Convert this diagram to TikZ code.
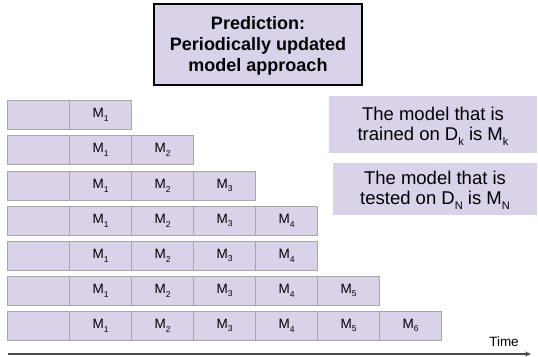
\documentclass[tikz,border=0pt]{standalone}
\usepackage{fontspec}
\setmainfont{Liberation Sans}
\usetikzlibrary{arrows.meta}
\definecolor{lav}{HTML}{D9D2E9}
\definecolor{cellborder}{HTML}{A6A6A6}
\newcommand{\lowsub}[2]{\raisebox{-0.5ex}{\fontsize{#1}{#1}\selectfont #2}}
\newcommand{\Msub}[1]{M\lowsub{8.5}{#1}}
\tikzset{
  cellbox/.style={draw=cellborder, line width=1.2pt, fill=lav, minimum width=62pt, minimum height=29pt, inner sep=0pt, anchor=north west, font=\fontsize{13.5}{15}\selectfont},
  notebox/.style={fill=lav, inner sep=0pt, align=center, font=\fontsize{18.5}{20}\selectfont},
}
\begin{document}
\begin{tikzpicture}[x=1pt,y=-1pt]
\useasboundingbox (0,0) rectangle (538,356);
% title
\node[draw=black, line width=1.3pt, fill=lav, minimum width=208pt, minimum height=81pt, inner sep=0pt] (title) at (258,44.5) {};
\node[align=center, inner sep=0pt, font=\bfseries\fontsize{18}{21}\selectfont] (titletext) at (258,45.5) {Prediction:\\Periodically updated\\model approach};
% rows
\foreach \r/\n/\y in {1/1/99.5, 2/2/135, 3/3/170.5, 4/4/205.5, 5/4/240.5, 6/5/275.5, 7/6/310.5} {
  \node[cellbox] (r\r c0) at (7,\y) {};
  \foreach \c in {1,...,\n} {
    \node[cellbox] (r\r c\c) at ({7+62*\c},\y) {\Msub{\c}};
  }
}
% notes
\node[notebox, minimum width=208pt, minimum height=57pt] (train) at (433,124.5) {};
\node[align=center, inner sep=0pt, font=\fontsize{18.5}{20}\selectfont] (traintext) at (433,126) {The model that is\\trained on D\lowsub{11}{k} is M\lowsub{11}{k}};
\node[notebox, minimum width=204pt, minimum height=52pt] (test) at (435,189) {};
\node[align=center, inner sep=0pt, font=\fontsize{18.5}{20}\selectfont] (testtext) at (435,190) {The model that is\\tested on D\lowsub{11}{N} is M\lowsub{11}{N}};
% time axis
\coordinate (t0) at (8,354);
\coordinate (t1) at (531,354);
\draw[draw=black!70, line width=1.4pt, -{Stealth[length=6pt,width=5pt]}] (t0) -- (t1);
\node[font=\fontsize{13.5}{15}\selectfont, anchor=base] (time) at (504,346) {Time};
\end{tikzpicture}
\end{document}
